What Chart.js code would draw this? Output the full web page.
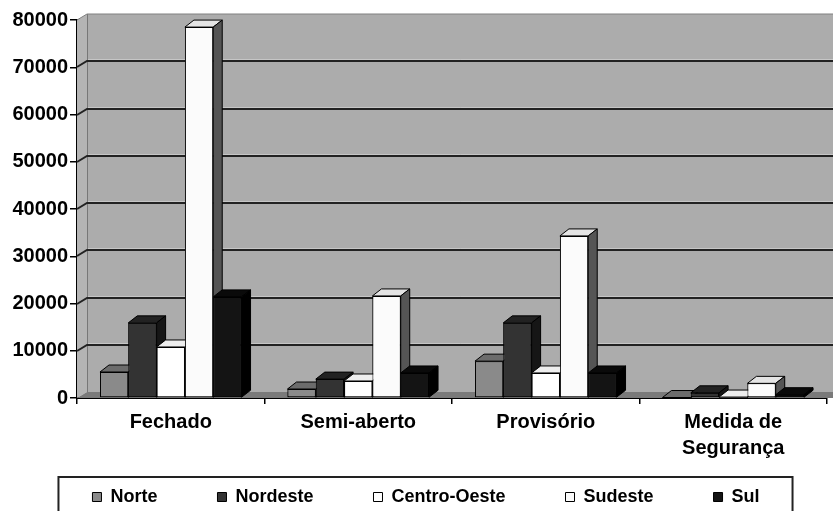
<!DOCTYPE html>
<html>
<head>
<meta charset="utf-8">
<script src="https://cdn.jsdelivr.net/npm/chart.js@4/dist/chart.umd.min.js"></script>
<style>
  html, body { margin: 0; padding: 0; background: #fff; }
  canvas { display: block; }
</style>
</head>
<body>
<canvas id="chart" width="833" height="511"></canvas>
<script>
const categories = ['Fechado', 'Semi-aberto', 'Provisório', ['Medida de', 'Segurança']];
const regions = ['Norte', 'Nordeste', 'Centro-Oeste', 'Sudeste', 'Sul'];

const norte = [5500, 1900, 7800, 100];
const nordeste = [15900, 4000, 15900, 1100];
const centroOeste = [10800, 3600, 5300, 200];
const sudeste = [78500, 21600, 34300, 3100];
const sul = [21400, 5300, 5300, 700];

const yTicks = [0, 10000, 20000, 30000, 40000, 50000, 60000, 70000, 80000];

// front / top / side shades for the fake 3D bars
const shades = [
    { front: '#8a8a8a', top: '#6c6c6c', side: '#5a5a5a' },
    { front: '#333333', top: '#222222', side: '#161616' },
    { front: '#ffffff', top: '#eeeeee', side: '#9a9a9a' },
    { front: '#fbfbfb', top: '#e4e4e4', side: '#555555' },
    { front: '#141414', top: '#0a0a0a', side: '#000000' },
];

const FONT = "'Liberation Sans', Arial, sans-serif";
const WALL_DX = 10, WALL_DY = -6;
const BAR_DX = 9, BAR_DY = -7;

const walls = {
    id: 'walls',
    afterLayout(chart) {
        // let the tick labels spill outside their boxes instead of being clipped
        chart.scales.y.left = 0;
        chart.scales.x.bottom = chart.height;
    },
    beforeDatasetsDraw(chart) {
        const { ctx, chartArea: a, scales: { y } } = chart;
        const W = chart.width;
        ctx.save();
        // back wall
        ctx.fillStyle = '#acacac';
        ctx.fillRect(a.left + WALL_DX, a.top + WALL_DY, W - a.left - WALL_DX, a.bottom - a.top);
        // left side wall
        ctx.fillStyle = '#b4b4b4';
        ctx.beginPath();
        ctx.moveTo(a.left, a.top);
        ctx.lineTo(a.left + WALL_DX, a.top + WALL_DY);
        ctx.lineTo(a.left + WALL_DX, a.bottom + WALL_DY);
        ctx.lineTo(a.left, a.bottom);
        ctx.closePath();
        ctx.fill();
        // floor
        ctx.fillStyle = '#7a7a7a';
        ctx.beginPath();
        ctx.moveTo(a.left, a.bottom);
        ctx.lineTo(a.left + WALL_DX, a.bottom + WALL_DY);
        ctx.lineTo(W, a.bottom + WALL_DY);
        ctx.lineTo(W, a.bottom);
        ctx.closePath();
        ctx.fill();
        // wall corner edge
        ctx.strokeStyle = '#777';
        ctx.lineWidth = 1;
        ctx.beginPath();
        ctx.moveTo(a.left + WALL_DX + 0.5, a.top + WALL_DY);
        ctx.lineTo(a.left + WALL_DX + 0.5, a.bottom + WALL_DY);
        ctx.stroke();
        // gridlines on the walls
        yTicks.forEach(v => {
            if (v === 0) return;
            const py = Math.round(y.getPixelForValue(v));
            const top = v === yTicks[yTicks.length - 1];
            ctx.strokeStyle = top ? '#808080' : '#222';
            ctx.lineWidth = top ? 1 : 2;
            ctx.beginPath();
            ctx.moveTo(a.left, py);
            ctx.lineTo(a.left + WALL_DX, py + WALL_DY);
            ctx.lineTo(W, py + WALL_DY);
            ctx.stroke();
            if (!top) {
                ctx.strokeStyle = '#c6c6c6';
                ctx.lineWidth = 1;
                ctx.beginPath();
                ctx.moveTo(a.left + WALL_DX + 1, py + WALL_DY - 1.5);
                ctx.lineTo(W, py + WALL_DY - 1.5);
                ctx.stroke();
            }
        });
        ctx.restore();
    },
    afterDatasetsDraw(chart) {
        // redraw left to right so every front face covers its left neighbour's side
        const { ctx } = chart;
        chart.data.datasets.forEach((ds, i) => {
            const meta = chart.getDatasetMeta(i);
            const sh = shades[i];
            meta.data.forEach(bar => {
                bar.draw(ctx);
                const { x, y, base, width } = bar.getProps(['x', 'y', 'base', 'width'], true);
                const l = x - width / 2, r = x + width / 2;
                ctx.save();
                ctx.strokeStyle = '#000';
                ctx.lineWidth = 1;
                ctx.fillStyle = sh.top;
                ctx.beginPath();
                ctx.moveTo(l, y);
                ctx.lineTo(l + BAR_DX, y + BAR_DY);
                ctx.lineTo(r + BAR_DX, y + BAR_DY);
                ctx.lineTo(r, y);
                ctx.closePath();
                ctx.fill();
                ctx.stroke();
                ctx.fillStyle = sh.side;
                ctx.beginPath();
                ctx.moveTo(r, y);
                ctx.lineTo(r + BAR_DX, y + BAR_DY);
                ctx.lineTo(r + BAR_DX, base + BAR_DY);
                ctx.lineTo(r, base);
                ctx.closePath();
                ctx.fill();
                ctx.stroke();
                ctx.restore();
            });
        });
    },
    afterDraw(chart) {
        const boxes = chart.legend && chart.legend.legendHitBoxes;
        if (!boxes || !boxes.length) return;
        const { ctx } = chart;
        const first = boxes[0], last = boxes[boxes.length - 1];
        const left = first.left - 34, right = last.left + last.width + 33;
        const top = first.top + first.height / 2 - 20;
        ctx.save();
        ctx.strokeStyle = '#222';
        ctx.lineWidth = 2;
        ctx.strokeRect(left, top, right - left, chart.height - top + 10);
        ctx.restore();
    }
};

const series = [norte, nordeste, centroOeste, sudeste, sul];

new Chart(document.getElementById('chart'), {
    type: 'bar',
    data: {
        labels: categories,
        datasets: series.map((vals, i) => ({
            label: regions[i],
            data: vals,
            backgroundColor: shades[i].front,
            borderColor: '#000',
            borderWidth: 1,
            borderSkipped: false,
            categoryPercentage: 0.755,
            barPercentage: 1,
        })),
    },
    options: {
        responsive: false,
        devicePixelRatio: 1,
        animation: false,
        layout: { padding: { left: 25, right: 6, top: 20, bottom: 0 } },
        scales: {
            x: {
                grid: { offset: true, drawOnChartArea: false, drawTicks: true, tickLength: 6, color: '#000', lineWidth: 1.5 },
                border: { display: true, color: '#000', width: 2 },
                ticks: { color: '#000', padding: 5, maxRotation: 0, font: { family: FONT, size: 20, weight: 'bold', lineHeight: 1.3 } },
                afterFit(scale) { scale.height = 30; },
            },
            y: {
                min: 0,
                max: 80000,
                afterBuildTicks(scale) { scale.ticks = yTicks.map(v => ({ value: v })); },
                grid: { drawOnChartArea: false, drawTicks: true, tickLength: 7, color: '#000', lineWidth: 1.5 },
                border: { display: true, color: '#000', width: 2 },
                ticks: {
                    color: '#000',
                    padding: 2,
                    font: { family: FONT, size: 20, weight: 'bold' },
                    callback: v => String(v),
                },
                afterFit(scale) { scale.width = 52; },
            },
        },
        plugins: {
            legend: {
                position: 'bottom',
                maxHeight: 83,
                labels: {
                    color: '#000',
                    boxWidth: 9,
                    boxHeight: 9,
                    padding: 60,
                    font: { family: FONT, size: 18, weight: 'bold' },
                },
            },
            tooltip: { enabled: false },
        },
    },
    plugins: [walls],
});
</script>
</body>
</html>
